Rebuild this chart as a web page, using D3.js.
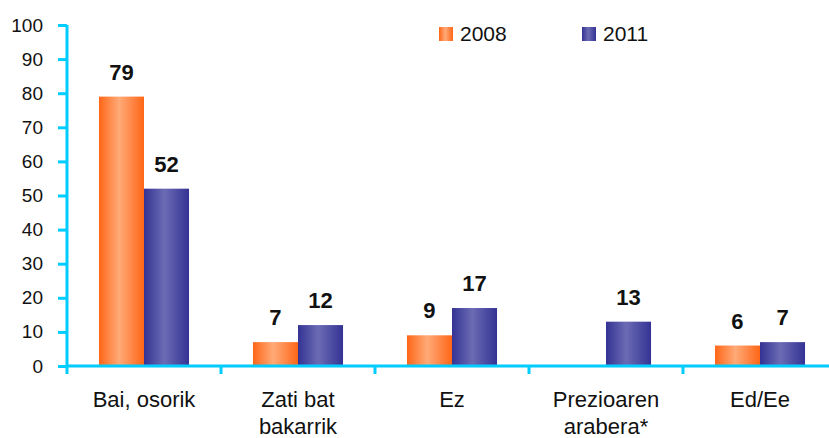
<!DOCTYPE html>
<html>
<head>
<meta charset="utf-8">
<script src="https://cdn.jsdelivr.net/npm/d3@7"></script>
<style>
  body { margin: 0; background: #fff; }
  svg { display: block; font-family: "Liberation Sans", Arial, sans-serif; }
</style>
</head>
<body>
<div id="chart"></div>
<script>
// data
let categories = [["Bai, osorik"], ["Zati bat", "bakarrik"], ["Ez"], ["Prezioaren", "arabera*"], ["Ed/Ee"]]
let years = ["2008", "2011"]
let values2008 = [79, 7, 9, null, 6]
let values2011 = [52, 12, 17, 13, 7]
let yTicks = [0, 10, 20, 30, 40, 50, 60, 70, 80, 90, 100]

let width = 829, height = 438
let axisColor = "#00CCFF"

let svg = d3.select('#chart').append('svg')
    .attr('width', width)
    .attr('height', height)

// gradients for the bars
let defs = svg.append('defs')
function addGradient(id, edge, mid) {
    let g = defs.append('linearGradient').attr('id', id)
        .attr('x1', '0%').attr('x2', '100%').attr('y1', '0%').attr('y2', '0%')
    g.append('stop').attr('offset', '0%').attr('stop-color', edge)
    g.append('stop').attr('offset', '45%').attr('stop-color', mid)
    g.append('stop').attr('offset', '100%').attr('stop-color', edge)
}
addGradient('grad2008', '#FF6617', '#FFAA78')
addGradient('grad2011', '#343394', '#6B6BB4')

let x = d3.scaleBand()
    .domain(d3.range(categories.length))
    .range([67, 67 + 154 * categories.length])
    .paddingInner(0)
    .paddingOuter(0)

let x1 = d3.scaleBand()
    .domain(years)
    .range([0, x.bandwidth()])
    .paddingInner(0)
    .paddingOuter(0.71)

let y = d3.scaleLinear()
    .domain([0, 100])
    .range([366, 25])

let series = [
    { year: "2008", values: values2008, fill: "url(#grad2008)" },
    { year: "2011", values: values2011, fill: "url(#grad2011)" }
]

// bars
series.forEach(s => {
    let pts = s.values.map((v, i) => ({ i: i, v: v })).filter(d => d.v != null)
    svg.append('g').selectAll('rect')
        .data(pts)
        .join('rect')
        .attr('x', d => x(d.i) + x1(s.year))
        .attr('width', x1.bandwidth())
        .attr('y', d => y(d.v))
        .attr('height', d => y(0) - y(d.v))
        .attr('fill', s.fill)

    svg.append('g').selectAll('text')
        .data(pts)
        .join('text')
        .attr('x', d => x(d.i) + x1(s.year) + x1.bandwidth() / 2)
        .attr('y', d => y(d.v) - 17)
        .attr('text-anchor', 'middle')
        .attr('font-size', 22)
        .attr('font-weight', 'bold')
        .attr('fill', '#111')
        .text(d => d.v)
})

// y axis
let yAxis = svg.append('g')
    .attr('transform', 'translate(67,0)')
    .call(d3.axisLeft(y).tickValues(yTicks).tickSize(9).tickPadding(15))
yAxis.select('.domain').attr('stroke', axisColor).attr('stroke-width', 3)
    .attr('d', 'M0,' + (y(100)) + 'V' + (y(0) + 8))
yAxis.selectAll('.tick line').attr('stroke', axisColor).attr('stroke-width', 3)
yAxis.selectAll('.tick text')
    .attr('font-size', 19)
    .attr('font-family', '"Liberation Sans", Arial, sans-serif')
    .attr('fill', '#111')

// x axis
let xAxisG = svg.append('g')
xAxisG.append('line')
    .attr('x1', 66).attr('x2', width)
    .attr('y1', y(0)).attr('y2', y(0))
    .attr('stroke', axisColor).attr('stroke-width', 3)
xAxisG.selectAll('line.tick')
    .data(d3.range(1, categories.length))
    .join('line')
    .attr('class', 'tick')
    .attr('x1', d => x(d)).attr('x2', d => x(d))
    .attr('y1', y(0)).attr('y2', y(0) + 8)
    .attr('stroke', axisColor).attr('stroke-width', 3)

// category labels
let catLabels = svg.append('g').selectAll('text')
    .data(categories)
    .join('text')
    .attr('text-anchor', 'middle')
    .attr('font-size', 22)
    .attr('fill', '#111')
    .attr('transform', (d, i) => 'translate(' + (x(i) + x.bandwidth() / 2) + ',407)')
catLabels.selectAll('tspan')
    .data(d => d)
    .join('tspan')
    .attr('x', 0)
    .attr('dy', (d, j) => j === 0 ? 0 : 27)
    .text(d => d)

// legend
let legend = svg.append('g').selectAll('g')
    .data(series)
    .join('g')
    .attr('transform', (d, i) => 'translate(' + (439 + i * 143) + ',27)')
legend.append('rect')
    .attr('width', 14).attr('height', 14)
    .attr('fill', d => d.fill)
legend.append('text')
    .attr('x', 21).attr('y', 14)
    .attr('font-size', 21)
    .attr('fill', '#111')
    .text(d => d.year)
</script>
</body>
</html>
